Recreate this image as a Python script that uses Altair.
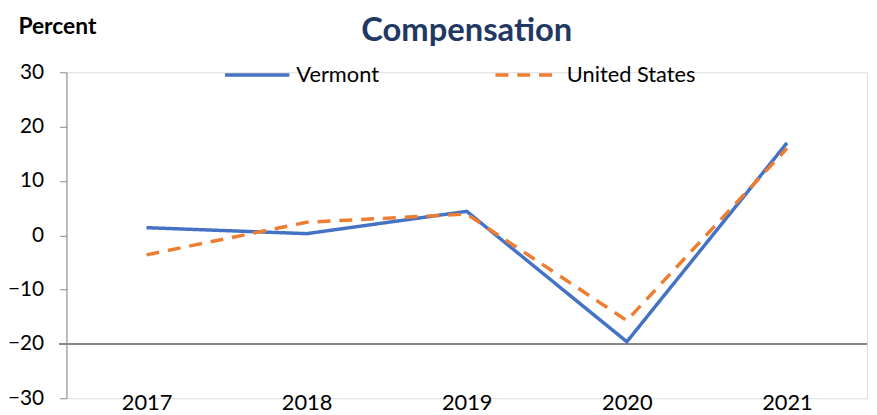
import altair as alt
import pandas as pd

years = ["2017", "2018", "2019", "2020", "2021"]
vermont = [1.4, 0.3, 4.4, -19.6, 17.0]
united_states = [-3.6, 2.4, 3.9, -15.7, 16.0]
series_names = ["Vermont", "United States"]
colors = ["#4472C4", "#ED7D31"]

df = pd.DataFrame(
    {
        "year": years * 2,
        "value": vermont + united_states,
        "series": [series_names[0]] * len(years) + [series_names[1]] * len(years),
    }
)

FONT = "Lato"
W, H = 808, 329


def make_legend():
    return alt.Legend(
        title=None,
        orient="none",
        direction="horizontal",
        legendX=158,
        legendY=-32,
        symbolType="stroke",
        symbolSize=4225,
        symbolStrokeWidth=3.5,
        labelFontSize=22,
        labelFont=FONT,
        labelColor="#000000",
        labelOffset=5,
        columnPadding=110,
    )


color_enc = alt.Color(
    "series:N",
    scale=alt.Scale(domain=series_names, range=colors),
    legend=make_legend(),
)
dash_enc = alt.StrokeDash(
    "series:N",
    scale=alt.Scale(domain=series_names, range=[[1, 0], [13, 9]]),
    legend=make_legend(),
)

x_enc = alt.X(
    "year:O",
    sort=years,
    scale=alt.Scale(padding=0.5),
    axis=alt.Axis(
        title=None,
        domain=False,
        ticks=False,
        tickSize=0,
        labelAngle=0,
        labelFontSize=22,
        labelFont=FONT,
        labelColor="#000000",
        labelBaseline="middle",
        labelPadding=4,
        grid=False,
    ),
)
y_enc = alt.Y(
    "value:Q",
    scale=alt.Scale(domain=[-30, 30], nice=False, zero=False),
    axis=alt.Axis(
        values=[-30, -20, -10, 0, 10, 20, 30],
        grid=False,
        domainColor="#898989",
        tickColor="#898989",
        tickSize=7,
        labelFontSize=21,
        labelFont=FONT,
        labelColor="#000000",
        labelPadding=16,
        title="Percent",
        titleAngle=0,
        titleAlign="left",
        titleBaseline="alphabetic",
        titleX=-49,
        titleY=-39,
        titleFontSize=23,
        titleFont=FONT,
        titleFontWeight="bold",
        titleColor="#000000",
    ),
)

base = alt.Chart(df)

rule = base.mark_rule(color="#898989", strokeWidth=1).encode(
    y=alt.datum(-20), x=alt.value(-7), x2=alt.value(W)
)

vt_line = (
    base.transform_filter(alt.datum.series == "Vermont")
    .mark_line(strokeWidth=3.5)
    .encode(x=x_enc, y=y_enc, color=color_enc, strokeDash=dash_enc)
)
us_line = (
    base.transform_filter(alt.datum.series == "United States")
    .mark_line(strokeWidth=3.5)
    .encode(x=x_enc, y=y_enc, color=color_enc, strokeDash=dash_enc)
)

chart = (
    alt.layer(rule, vt_line, us_line)
    .properties(
        width=W,
        height=H,
        title=alt.TitleParams(
            "Compensation",
            fontSize=33,
            fontWeight="bold",
            font=FONT,
            color="#1F3864",
            anchor="middle",
            baseline="alphabetic",
            offset=-58,
        ),
        autosize=alt.AutoSizeParams(type="none"),
        padding={"left": 59, "top": 63, "right": 2, "bottom": 15},
    )
    .configure_view(stroke=None)
    .configure(background="#ffffff")
)

chart.save("out.html", embed_options={"renderer": "svg", "actions": False})
